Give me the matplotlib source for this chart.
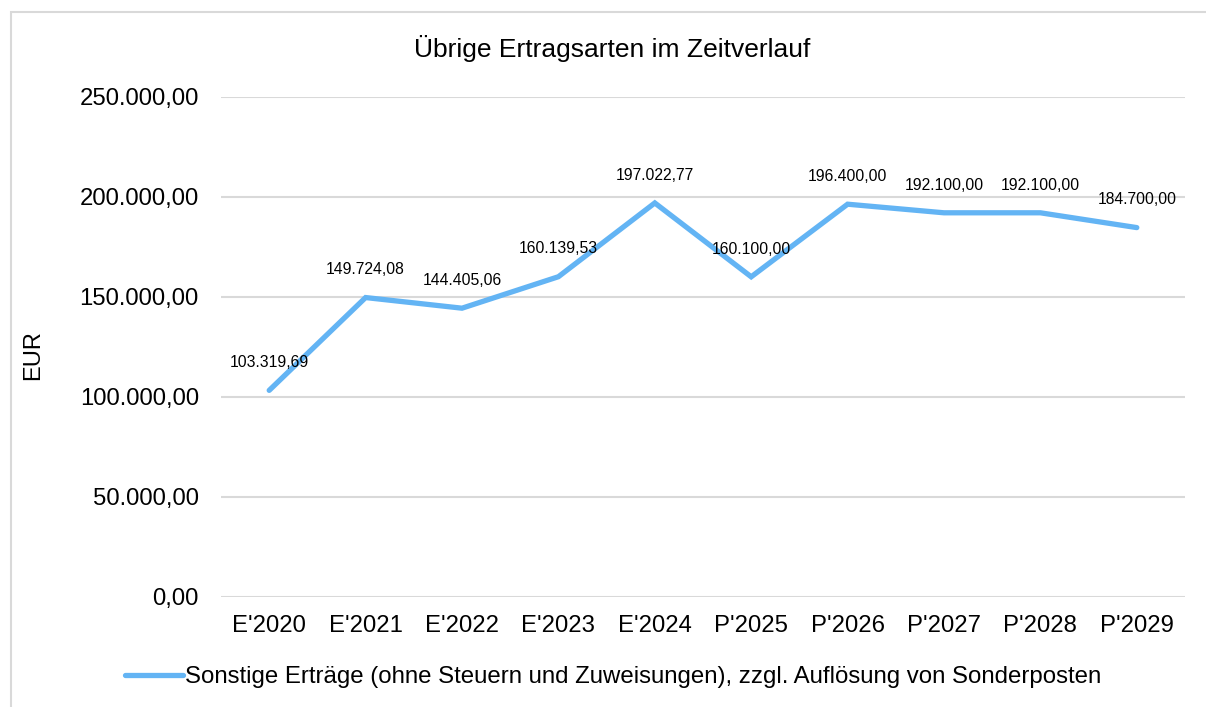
import numpy as np
import matplotlib.pyplot as plt
from matplotlib.patches import Rectangle

plt.rcParams['font.family'] = ['Liberation Sans', 'DejaVu Sans']

jahre = ["E'2020", "E'2021", "E'2022", "E'2023", "E'2024",
         "P'2025", "P'2026", "P'2027", "P'2028", "P'2029"]
ertraege = [103319.69, 149724.08, 144405.06, 160139.53, 197022.77,
            160100.00, 196400.00, 192100.00, 192100.00, 184700.00]
y_ticks = [0, 50000, 100000, 150000, 200000, 250000]
serie_name = "Sonstige Erträge (ohne Steuern und Zuweisungen), zzgl. Auflösung von Sonderposten"


def de_format(v):
    # German number format: 1.234,56
    s = f"{v:,.2f}"
    return s.replace(",", "X").replace(".", ",").replace("X", ".")


W, H = 1206, 707
fig = plt.figure(figsize=(W / 100, H / 100), dpi=100)
ax = fig.add_axes([221 / W, 1 - 597 / H, (1185 - 221) / W, (597 - 97) / H])

# outer chart frame
fig.patches.append(Rectangle((11 / W, -0.05), 1.1, 1 - 12 / H + 0.05,
                             transform=fig.transFigure, fill=False,
                             edgecolor='#d9d9d9', linewidth=1.5))

x = np.arange(len(jahre))
line, = ax.plot(x, ertraege, color='#63b4f4', linewidth=3.8,
                solid_capstyle='round', solid_joinstyle='miter', zorder=3)

for xi, v in zip(x, ertraege):
    ax.annotate(de_format(v), (xi, v), xytext=(0, 20), textcoords='offset points',
                ha='center', va='center', fontsize=11.3, color='#000000', zorder=4)

ax.set_xlim(-0.5, len(jahre) - 0.5)
ax.set_ylim(0, 250000)
ax.set_yticks(y_ticks)
ax.set_yticklabels([de_format(t) for t in y_ticks])
ax.set_xticks(x)
ax.set_xticklabels(jahre)
ax.tick_params(axis='both', length=0, labelsize=17.2, colors='#000000')
ax.tick_params(axis='y', pad=16)
ax.tick_params(axis='x', pad=13)
ax.grid(axis='y', color='#d9d9d9', linewidth=1.5)
ax.set_axisbelow(True)
for sp in ax.spines.values():
    sp.set_visible(False)

fig.text(33 / W, 1 - 355 / H, 'EUR', rotation=90, ha='center', va='center', fontsize=17)

fig.text(612 / W, 1 - 48 / H, 'Übrige Ertragsarten im Zeitverlauf',
         ha='center', va='center', fontsize=19)

fig.legend([line], [serie_name], loc='center', bbox_to_anchor=(613 / W, 1 - 677 / H),
           frameon=False, fontsize=17.3, handlelength=2.4, handletextpad=0.1)

fig.savefig('out.png', dpi=100)
